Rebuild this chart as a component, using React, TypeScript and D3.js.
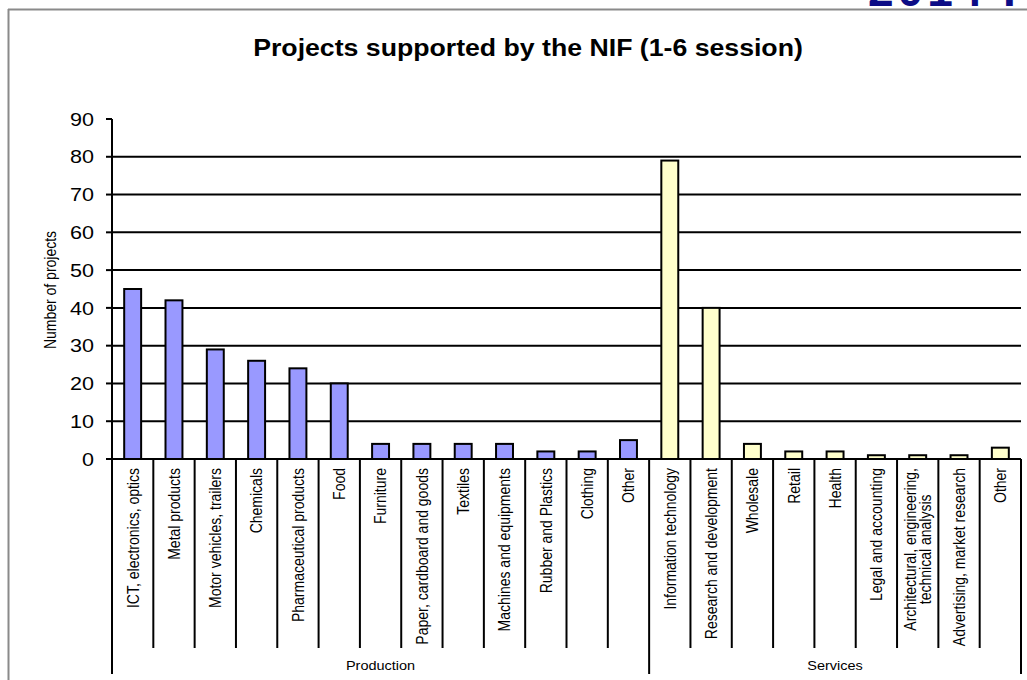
import React, { useEffect, useRef } from "react";
import * as d3 from "d3";

const productionCategories = [
  "ICT, electronics, optics",
  "Metal products",
  "Motor vehicles, trailers",
  "Chemicals",
  "Pharmaceutical products",
  "Food",
  "Furniture",
  "Paper, cardboard and goods",
  "Textiles",
  "Machines and equipments",
  "Rubber and Plastics",
  "Clothing",
  "Other",
];
const productionValues = [45, 42, 29, 26, 24, 20, 4, 4, 4, 4, 2, 2, 5];

const servicesCategories = [
  "Information technology",
  "Research and development",
  "Wholesale",
  "Retail",
  "Health",
  "Legal and accounting",
  "Architectural, engineering,\ntechnical analysis",
  "Advertising, market research",
  "Other",
];
const servicesValues = [79, 40, 4, 2, 2, 1, 1, 1, 3];

const groupLabels = ["Production", "Services"];
const yTicks = [0, 10, 20, 30, 40, 50, 60, 70, 80, 90];
const title = "Projects supported by the NIF (1-6 session)";
const yAxisLabel = "Number of projects";

const FONT = "'Liberation Sans', Arial, sans-serif";

export default function App() {
  const ref = useRef<SVGSVGElement>(null);

  useEffect(() => {
    const svg = d3.select(ref.current);
    svg.selectAll("*").remove();

    const W = 1027;
    const H = 680;
    const left = 112;
    const right = 1021;
    const top = 119;
    const bottom = 459;
    const sepBottom = 648;
    const groupBottom = 674;
    const sx = 1.16;

    const items = [
      ...productionCategories.map((c, i) => ({ key: "p" + i, label: c, value: productionValues[i], group: 0 })),
      ...servicesCategories.map((c, i) => ({ key: "s" + i, label: c, value: servicesValues[i], group: 1 })),
    ];
    const colors = ["#9999ff", "#ffffcc"];

    const x = d3.scaleBand<string>().domain(items.map((d) => d.key)).range([left, right]).paddingInner(0).paddingOuter(0);
    const y = d3.scaleLinear().domain([0, 90]).range([bottom, top]);
    const bw = x.bandwidth();
    const barW = bw * 0.41;

    // frame
    svg.append("line").attr("x1", 8).attr("x2", W).attr("y1", 9.5).attr("y2", 9.5).attr("stroke", "#8a8a8a").attr("stroke-width", 2);
    svg.append("line").attr("x1", 8.5).attr("x2", 8.5).attr("y1", 9).attr("y2", H).attr("stroke", "#8a8a8a").attr("stroke-width", 2);

    // cropped blue header text (cut off at the top edge, as in the source)
    svg.append("text").attr("x", 868).attr("y", 6).attr("font-family", FONT).attr("font-weight", "bold")
      .attr("font-size", 46).attr("fill", "#0c0c86").attr("letter-spacing", 4).text("2014 I");

    // title
    svg.append("text").attr("text-anchor", "middle").attr("font-family", FONT)
      .attr("transform", `translate(528,56) scale(${sx},1)`)
      .attr("font-weight", "bold").attr("font-size", 23).attr("fill", "#000").text(title);

    // gridlines
    svg.append("g").selectAll("line").data(yTicks.filter((t) => t > 0 && t < 90)).join("line")
      .attr("x1", left).attr("x2", right).attr("y1", (d) => y(d)).attr("y2", (d) => y(d))
      .attr("stroke", "#000").attr("stroke-width", 2);

    // y ticks
    svg.append("g").selectAll("line").data(yTicks).join("line")
      .attr("x1", left - 6).attr("x2", left).attr("y1", (d) => y(d)).attr("y2", (d) => y(d))
      .attr("stroke", "#000").attr("stroke-width", 2);
    svg.append("g").selectAll("text").data(yTicks).join("text")
      .attr("dy", "0.36em").attr("text-anchor", "end")
      .attr("font-family", FONT).attr("font-size", 18.6).attr("fill", "#000")
      .attr("transform", (d) => `translate(94,${y(d)}) scale(${sx},1)`)
      .text((d) => String(d));

    // y axis label
    svg.append("text").attr("transform", `translate(50,290) scale(${sx},1) rotate(-90)`).attr("text-anchor", "middle")
      .attr("dy", "0.36em")
      .attr("font-family", FONT).attr("font-size", 14).attr("fill", "#000").text(yAxisLabel);

    // bars
    svg.append("g").selectAll("rect").data(items).join("rect")
      .attr("x", (d) => (x(d.key) as number) + bw / 2 - barW / 2)
      .attr("y", (d) => y(d.value))
      .attr("width", barW)
      .attr("height", (d) => y(0) - y(d.value))
      .attr("fill", (d) => colors[d.group])
      .attr("stroke", "#000").attr("stroke-width", 2);

    // axes lines
    svg.append("line").attr("x1", left).attr("x2", left).attr("y1", top).attr("y2", groupBottom).attr("stroke", "#000").attr("stroke-width", 2);
    svg.append("line").attr("x1", left).attr("x2", right).attr("y1", bottom).attr("y2", bottom).attr("stroke", "#000").attr("stroke-width", 2);

    // separators
    const boundaries = items.slice(1).map((d, i) => ({ x: x(d.key) as number, groupEdge: d.group !== items[i].group }));
    boundaries.push({ x: right, groupEdge: true });
    svg.append("g").selectAll("line").data(boundaries).join("line")
      .attr("x1", (d) => d.x).attr("x2", (d) => d.x).attr("y1", bottom)
      .attr("y2", (d) => (d.groupEdge ? groupBottom : sepBottom))
      .attr("stroke", "#000").attr("stroke-width", 2);

    // category labels
    const labelTop = 468;
    items.forEach((d) => {
      const lines = d.label.split("\n");
      const cx = (x(d.key) as number) + bw / 2;
      const g = svg.append("g");
      const texts = lines.map((ln) =>
        g.append("text").attr("font-family", FONT).attr("font-size", 14).attr("fill", "#000")
          .attr("text-anchor", "middle").text(ln)
      );
      const maxLen = d3.max(texts, (t) => (t.node() as SVGTextElement).getComputedTextLength()) || 0;
      const lineH = 15;
      const n = lines.length;
      texts.forEach((t, i) => {
        const lx = cx + (i - (n - 1) / 2) * lineH;
        const ly = labelTop + maxLen / 2;
        t.attr("transform", `translate(${lx},${ly}) scale(${sx},1) rotate(-90)`).attr("dy", "0.36em");
      });
    });

    // group labels
    groupLabels.forEach((g, gi) => {
      const gi0 = items.filter((d) => d.group === gi);
      const x0 = x(gi0[0].key) as number;
      const x1 = (x(gi0[gi0.length - 1].key) as number) + bw;
      svg.append("text").attr("transform", `translate(${(x0 + x1) / 2},670) scale(${sx},1)`).attr("text-anchor", "middle")
        .attr("font-family", FONT).attr("font-size", 12.5).attr("fill", "#000").text(g);
    });
  }, []);

  return (
    <svg
      ref={ref}
      width={1027}
      height={680}
      style={{ position: "absolute", left: 0, top: 0, background: "#fff" }}
    />
  );
}
